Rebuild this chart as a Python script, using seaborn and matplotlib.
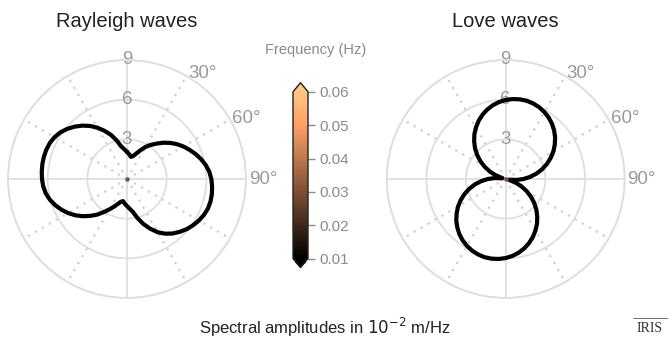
import numpy as np
import pandas as pd
import matplotlib
matplotlib.use("Agg")
import matplotlib.pyplot as plt
import seaborn as sns
from matplotlib.lines import Line2D

# ---------------- data ----------------
azimuth_deg = list(range(0, 360, 5))

rayleigh_amp = [2.05, 1.88, 1.70, 1.80, 2.05, 2.40, 2.80, 3.15, 3.50, 3.88,
                4.25, 4.60, 4.92, 5.22, 5.52, 5.80, 6.05, 6.25, 6.38, 6.46,
                6.52, 6.54, 6.52, 6.42, 6.28, 6.10, 5.90, 5.65, 5.38, 5.05,
                4.65, 4.15, 3.62, 3.05, 2.52, 2.25, 2.05, 1.88, 1.70, 1.78,
                2.00, 2.30, 2.65, 3.05, 3.52, 3.95, 4.38, 4.78, 5.15, 5.48,
                5.78, 6.04, 6.24, 6.36, 6.43, 6.47, 6.50, 6.51, 6.49, 6.44,
                6.33, 6.15, 5.90, 5.60, 5.27, 4.90, 4.48, 4.02, 3.55, 3.02,
                2.50, 2.25]

love_amp = [5.98, 6.07, 6.12, 6.13, 6.08, 5.99, 5.85, 5.67, 5.45, 5.18,
            4.88, 4.53, 4.16, 3.75, 3.31, 2.85, 2.37, 1.86, 1.35, 0.82,
            0.29, 0.25, 0.78, 1.31, 1.82, 2.33, 2.81, 3.28, 3.71, 4.13,
            4.50, 4.85, 5.16, 5.43, 5.66, 5.84,
            5.98, 6.07, 6.12, 6.13, 6.08, 5.99, 5.85, 5.67, 5.45, 5.18,
            4.88, 4.53, 4.16, 3.75, 3.31, 2.85, 2.37, 1.86, 1.35, 0.82,
            0.29, 0.25, 0.78, 1.31, 1.82, 2.33, 2.81, 3.28, 3.71, 4.13,
            4.50, 4.85, 5.16, 5.43, 5.66, 5.84]

panel_titles = ["Rayleigh waves", "Love waves"]
center_freq = [0.03]
freq_limits = [0.01, 0.06]
cbar_ticks = [0.01, 0.02, 0.03, 0.04, 0.05, 0.06]
radial_ticks = [3, 6, 9]
radial_max = 9
major_angles = [0, 90, 180, 270]
major_labels = ["", "90°", "", ""]
minor_angles = [30, 60, 120, 150, 210, 240, 300, 330]
minor_labels = ["30°", "60°", "", "", "", "", "", ""]

# ---------------- style ----------------
sns.set_style("white")
plt.rcParams["font.family"] = ["Liberation Sans", "DejaVu Sans"]
GRID = "#dedede"
LBL = "#9a9a9a"

fig = plt.figure(figsize=(6.71, 3.45), dpi=100)

rects = [[8 / 671, 47 / 345, 238 / 671, 238 / 345],
         [386.7 / 671, 47 / 345, 238 / 671, 238 / 345]]

sc = None
for rect, title, amp in zip(rects, panel_titles, [rayleigh_amp, love_amp]):
    ax = fig.add_axes(rect, projection="polar")
    ax.set_theta_zero_location("N")
    ax.set_theta_direction(-1)

    theta = np.radians(azimuth_deg + [azimuth_deg[0] + 360])
    r = amp + [amp[0]]
    df = pd.DataFrame({"theta": theta, "r": r})
    sns.lineplot(data=df, x="theta", y="r", sort=False, estimator=None,
                 color="black", linewidth=3.0, ax=ax, zorder=4)
    sc = ax.scatter([0], [0], c=center_freq, cmap="copper",
                    vmin=freq_limits[0], vmax=freq_limits[1], s=10, zorder=5,
                    linewidths=0)

    ax.set_xlabel("")
    ax.set_ylabel("")
    ax.set_ylim(0, radial_max)
    ax.set_yticks(radial_ticks)
    ax.set_yticklabels([str(t) for t in radial_ticks])
    ax.set_rlabel_position(0)
    ax.tick_params(axis="y", labelsize=13.5, labelcolor=LBL, pad=0)
    for lbl in ax.get_yticklabels():
        lbl.set_ha("center")
        lbl.set_va("center")

    ax.set_xticks(np.radians(major_angles))
    ax.set_xticklabels(major_labels)
    ax.set_xticks(np.radians(minor_angles), minor=True)
    ax.set_xticklabels(minor_labels, minor=True)
    ax.tick_params(axis="x", which="both", labelsize=13.5, labelcolor=LBL,
                   pad=-5, length=0)
    for lbl in ax.get_xticklabels() + ax.get_xticklabels(minor=True):
        lbl.set_ha("left")
        lbl.set_va("center")

    ax.grid(True, which="major", color=GRID, linewidth=1.3, linestyle="-")
    ax.xaxis.grid(True, which="minor", color="#cfcfcf", linewidth=1.6,
                  linestyle=(0, (1, 2.6)))
    ax.spines["polar"].set_color(GRID)
    ax.spines["polar"].set_linewidth(1.3)

    ax.set_title(title, fontsize=14.5, color="#222222", pad=24)

# colorbar
cax = fig.add_axes([293 / 671, (345 - 267.7) / 345, 15 / 671, 185 / 345])
cb = fig.colorbar(sc, cax=cax, extend="both", extendfrac=0.055,
                  ticks=cbar_ticks)
cb.outline.set_edgecolor("#222222")
cb.outline.set_linewidth(1.0)
cax.tick_params(axis="y", labelsize=11, labelcolor="#8a8a8a",
                color="#8a8a8a", length=5, width=1, pad=3)
fig.text(316 / 671, 1 - 50 / 345, "Frequency (Hz)", ha="center",
         va="center", fontsize=10.5, color="#8a8a8a")

fig.text(325 / 671, 1 - 327 / 345, "Spectral amplitudes in $10^{-2}$ m/Hz",
         ha="center", va="center", fontsize=12, color="#222222")

# IRIS mark
fig.text(650 / 671, 1 - 329 / 345, "IRIS", ha="center", va="center",
         fontsize=10, family="Liberation Serif", color="#333333")
fig.add_artist(Line2D([633 / 671, 667 / 671], [1 - 318 / 345, 1 - 318 / 345],
                      transform=fig.transFigure, color="#555555", lw=0.6))

fig.savefig("out.png", dpi=100)
